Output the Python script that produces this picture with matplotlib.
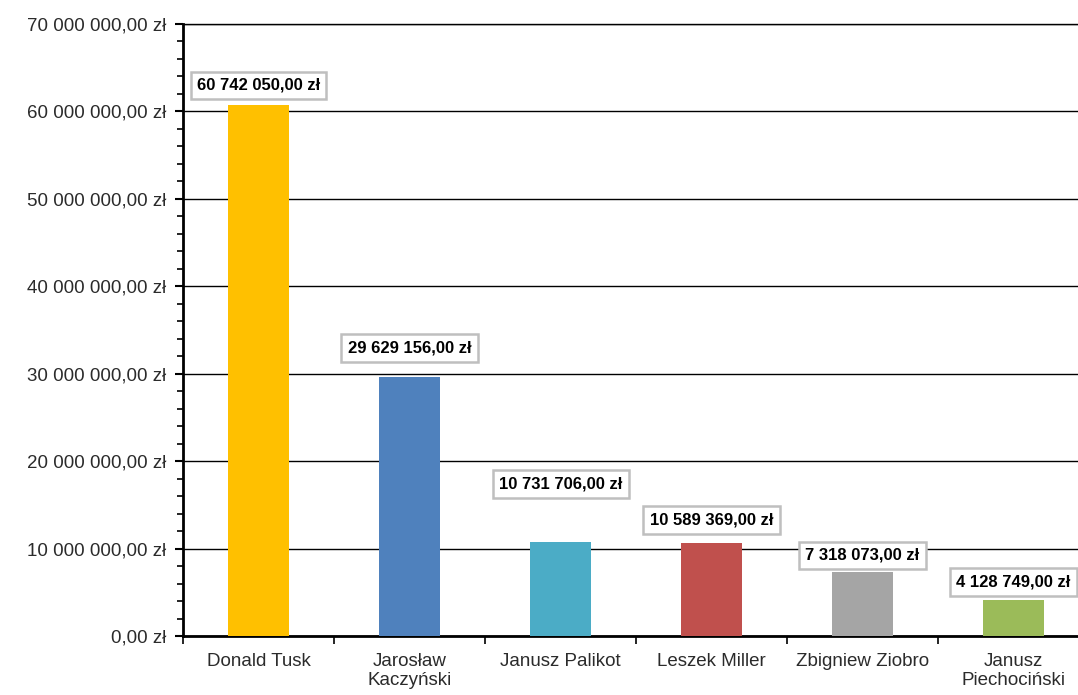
import matplotlib.pyplot as plt
import matplotlib.ticker as mticker

plt.rcParams['font.family'] = ['Liberation Sans', 'DejaVu Sans']

# data
names = ["Donald Tusk", "Jarosław\nKaczyński", "Janusz Palikot",
         "Leszek Miller", "Zbigniew Ziobro", "Janusz\nPiechociński"]
amounts = [60742050.00, 29629156.00, 10731706.00,
           10589369.00, 7318073.00, 4128749.00]
colors = ["#FFC000", "#4F81BD", "#4BACC6", "#C0504D", "#A5A5A5", "#9BBB59"]
# offset of each value box centre above its bar (points)
label_offsets = [14, 21, 42, 17, 12, 13]


def pl_money(v, pos=None):
    s = "{:,.2f}".format(v).replace(",", " ").replace(".", ",")
    return s + " zł"


fig = plt.figure(figsize=(10.78, 6.95), dpi=100)
ax = fig.add_axes([0.1698, 0.0849, 0.8404, 0.8806])

x = [i + 0.5 for i in range(len(names))]
ax.bar(x, amounts, width=0.4, color=colors, zorder=3)

ax.set_xlim(0, len(names))
ax.set_ylim(0, 70000000)
ax.yaxis.set_major_locator(mticker.MultipleLocator(10000000))
ax.yaxis.set_minor_locator(mticker.MultipleLocator(2000000))
ax.yaxis.set_major_formatter(mticker.FuncFormatter(pl_money))
ax.grid(axis='y', which='major', color='black', linewidth=1, zorder=1)

ax.set_xticks(x)
ax.set_xticklabels(names)
ax.set_xticks(range(len(names) + 1), minor=True)
ax.tick_params(axis='x', which='major', length=0, pad=12,
               labelsize=13.5, labelcolor='#2b2b2b')
ax.tick_params(axis='x', which='minor', length=6, width=1.2, direction='out')
ax.tick_params(axis='y', which='major', length=6, width=1.5,
               labelsize=13.5, labelcolor='#2b2b2b', pad=6)
ax.tick_params(axis='y', which='minor', length=4, width=1.2)

ax.spines['right'].set_visible(False)
ax.spines['left'].set_linewidth(2)
ax.spines['bottom'].set_linewidth(2)
ax.spines['top'].set_linewidth(1)

for xi, v, off in zip(x, amounts, label_offsets):
    ax.annotate(pl_money(v), xy=(xi, v), xytext=(0, off),
                textcoords='offset points', ha='center', va='center',
                fontsize=12, fontweight='bold', color='black',
                bbox=dict(boxstyle='square,pad=0.38', fc='white',
                          ec='#BFBFBF', lw=1.8),
                annotation_clip=False, zorder=5)

fig.savefig("out.png", dpi=100)
